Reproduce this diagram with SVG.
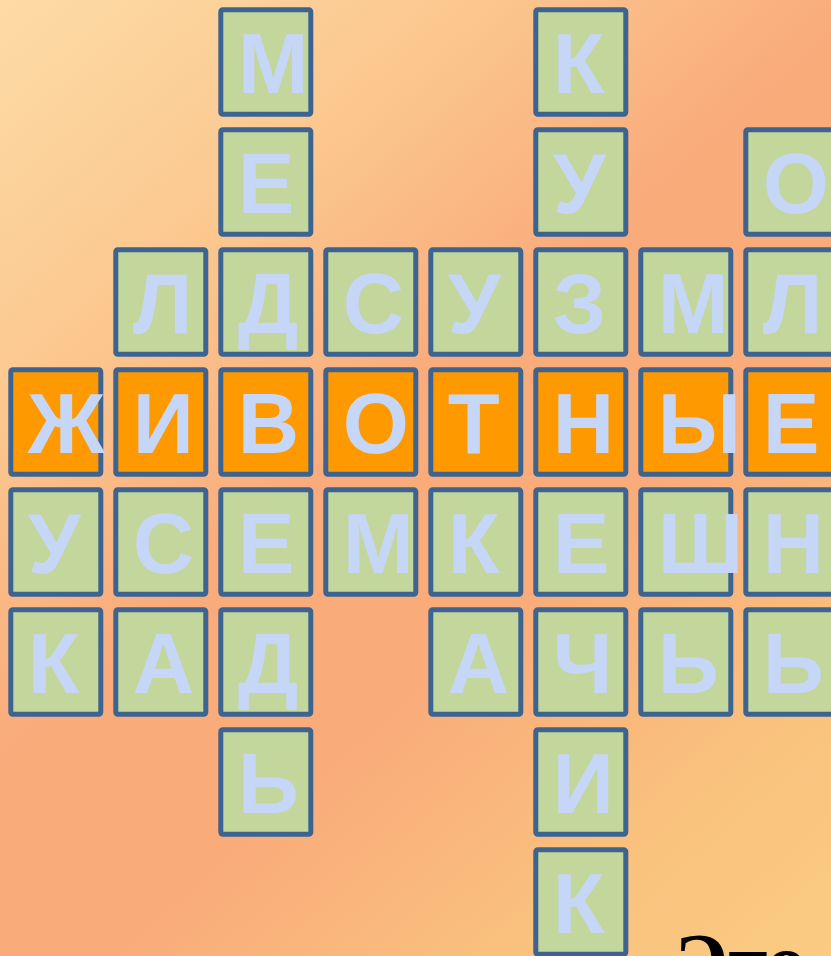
<svg xmlns="http://www.w3.org/2000/svg" width="831" height="956" viewBox="0 0 831 956">
<defs>
<linearGradient id="bg" gradientUnits="userSpaceOnUse" x1="0" y1="0" x2="831" y2="956">
<stop offset="0" stop-color="#FDDBA5"/>
<stop offset="0.25" stop-color="#FBC78F"/>
<stop offset="0.45" stop-color="#F9AB7B"/>
<stop offset="0.62" stop-color="#F9AB7A"/>
<stop offset="0.85" stop-color="#F9C37E"/>
<stop offset="1" stop-color="#FACB83"/>
</linearGradient>
</defs>
<style>
.c rect{stroke:#3D6391;stroke-width:5;rx:2;}
.g rect{fill:#C3D69B;}
.o rect{fill:#FF9900;}
.c text{font-family:"Liberation Sans",Arial,sans-serif;font-weight:bold;font-size:85px;fill:#C6D6F6;}
.t{font-family:"Liberation Serif","Times New Roman",serif;font-weight:bold;font-size:80px;fill:#000;}
</style>
<rect x="0" y="0" width="831" height="956" fill="url(#bg)"/>
<g id="connectors"></g>
<!-- row 0 -->
<g id="r0c2" class="c g"><rect x="220.8" y="9.8" width="90" height="104.4"/><text x="237.8" y="92.8">М</text></g>
<g id="r0c5" class="c g"><rect x="535.8" y="9.8" width="90" height="104.4"/><text x="552.8" y="92.8">К</text></g>
<!-- row 1 -->
<g id="r1c2" class="c g"><rect x="220.8" y="129.8" width="90" height="104.4"/><text x="237.8" y="212.8">Е</text></g>
<g id="r1c5" class="c g"><rect x="535.8" y="129.8" width="90" height="104.4"/><text x="552.8" y="212.8">У</text></g>
<g id="r1c7" class="c g"><rect x="745.8" y="129.8" width="90" height="104.4"/><text x="762.8" y="212.8">О</text></g>
<!-- row 2 -->
<g id="r2c1" class="c g"><rect x="115.8" y="249.8" width="90" height="104.4"/><text x="132.8" y="332.8">Л</text></g>
<g id="r2c2" class="c g"><rect x="220.8" y="249.8" width="90" height="104.4"/><text x="237.8" y="332.8">Д</text></g>
<g id="r2c3" class="c g"><rect x="325.8" y="249.8" width="90" height="104.4"/><text x="342.8" y="332.8">С</text></g>
<g id="r2c4" class="c g"><rect x="430.8" y="249.8" width="90" height="104.4"/><text x="447.8" y="332.8">У</text></g>
<g id="r2c5" class="c g"><rect x="535.8" y="249.8" width="90" height="104.4"/><text x="552.8" y="332.8">З</text></g>
<g id="r2c6" class="c g"><rect x="640.8" y="249.8" width="90" height="104.4"/><text x="657.8" y="332.8">М</text></g>
<g id="r2c7" class="c g"><rect x="745.8" y="249.8" width="90" height="104.4"/><text x="762.8" y="332.8">Л</text></g>
<!-- row 3 (orange) -->
<g id="r3c0" class="c o"><rect x="10.8" y="369.8" width="90" height="104.4"/><text x="27.8" y="452.8">Ж</text></g>
<g id="r3c1" class="c o"><rect x="115.8" y="369.8" width="90" height="104.4"/><text x="132.8" y="452.8">И</text></g>
<g id="r3c2" class="c o"><rect x="220.8" y="369.8" width="90" height="104.4"/><text x="237.8" y="452.8">В</text></g>
<g id="r3c3" class="c o"><rect x="325.8" y="369.8" width="90" height="104.4"/><text x="342.8" y="452.8">О</text></g>
<g id="r3c4" class="c o"><rect x="430.8" y="369.8" width="90" height="104.4"/><text x="447.8" y="452.8">Т</text></g>
<g id="r3c5" class="c o"><rect x="535.8" y="369.8" width="90" height="104.4"/><text x="552.8" y="452.8">Н</text></g>
<g id="r3c6" class="c o"><rect x="640.8" y="369.8" width="90" height="104.4"/><text x="657.8" y="452.8">Ы</text></g>
<g id="r3c7" class="c o"><rect x="745.8" y="369.8" width="90" height="104.4"/><text x="762.8" y="452.8">Е</text></g>
<!-- row 4 -->
<g id="r4c0" class="c g"><rect x="10.8" y="489.8" width="90" height="104.4"/><text x="27.8" y="572.8">У</text></g>
<g id="r4c1" class="c g"><rect x="115.8" y="489.8" width="90" height="104.4"/><text x="132.8" y="572.8">С</text></g>
<g id="r4c2" class="c g"><rect x="220.8" y="489.8" width="90" height="104.4"/><text x="237.8" y="572.8">Е</text></g>
<g id="r4c3" class="c g"><rect x="325.8" y="489.8" width="90" height="104.4"/><text x="342.8" y="572.8">М</text></g>
<g id="r4c4" class="c g"><rect x="430.8" y="489.8" width="90" height="104.4"/><text x="447.8" y="572.8">К</text></g>
<g id="r4c5" class="c g"><rect x="535.8" y="489.8" width="90" height="104.4"/><text x="552.8" y="572.8">Е</text></g>
<g id="r4c6" class="c g"><rect x="640.8" y="489.8" width="90" height="104.4"/><text x="657.8" y="572.8">Ш</text></g>
<g id="r4c7" class="c g"><rect x="745.8" y="489.8" width="90" height="104.4"/><text x="762.8" y="572.8">Н</text></g>
<!-- row 5 -->
<g id="r5c0" class="c g"><rect x="10.8" y="609.8" width="90" height="104.4"/><text x="27.8" y="692.8">К</text></g>
<g id="r5c1" class="c g"><rect x="115.8" y="609.8" width="90" height="104.4"/><text x="132.8" y="692.8">А</text></g>
<g id="r5c2" class="c g"><rect x="220.8" y="609.8" width="90" height="104.4"/><text x="237.8" y="692.8">Д</text></g>
<g id="r5c4" class="c g"><rect x="430.8" y="609.8" width="90" height="104.4"/><text x="447.8" y="692.8">А</text></g>
<g id="r5c5" class="c g"><rect x="535.8" y="609.8" width="90" height="104.4"/><text x="552.8" y="692.8">Ч</text></g>
<g id="r5c6" class="c g"><rect x="640.8" y="609.8" width="90" height="104.4"/><text x="657.8" y="692.8">Ь</text></g>
<g id="r5c7" class="c g"><rect x="745.8" y="609.8" width="90" height="104.4"/><text x="762.8" y="692.8">Ь</text></g>
<!-- row 6 -->
<g id="r6c2" class="c g"><rect x="220.8" y="729.8" width="90" height="104.4"/><text x="237.8" y="812.8">Ь</text></g>
<g id="r6c5" class="c g"><rect x="535.8" y="729.8" width="90" height="104.4"/><text x="552.8" y="812.8">И</text></g>
<!-- row 7 -->
<g id="r7c5" class="c g"><rect x="535.8" y="849.8" width="90" height="104.4"/><text x="552.8" y="932.8">К</text></g>
<g id="caption"><text class="t" x="674" y="989">Это</text></g>
</svg>
